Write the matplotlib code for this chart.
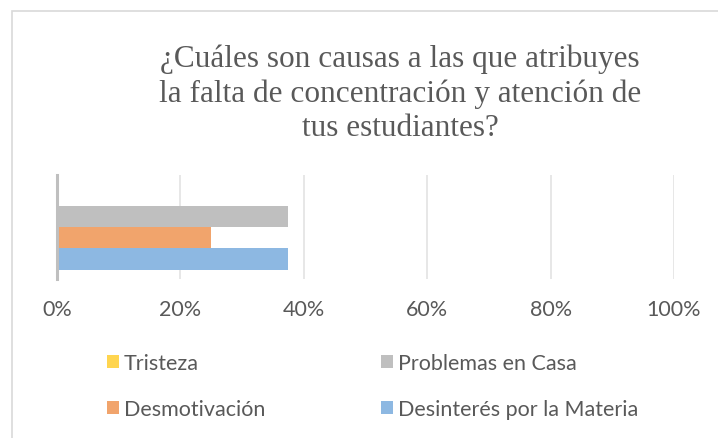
import matplotlib
matplotlib.use("Agg")
import matplotlib.pyplot as plt
from matplotlib.patches import Rectangle, Patch
from matplotlib.ticker import FuncFormatter

title = "¿Cuáles son causas a las que atribuyes\nla falta de concentración y atención de\ntus estudiantes?"
series = ["Desinterés por la Materia", "Desmotivación", "Problemas en Casa", "Tristeza"]
values = [0.375, 0.25, 0.375, 0.0]
colors = ["#8DB8E2", "#F1A46C", "#BFBFBF", "#FFD54F"]
xticks = [0, 0.2, 0.4, 0.6, 0.8, 1.0]

W, H = 718, 439
fig = plt.figure(figsize=(W / 100, H / 100), dpi=100)

# chart border
fig.patches.append(Rectangle((12 / W, -0.1), 1.2, 1 - 12 / H + 0.1, transform=fig.transFigure,
                             fill=False, edgecolor="#D9D9D9", linewidth=1.2))

ax = fig.add_axes([57 / W, 1 - 280 / H, 617 / W, 104 / H])
bar_h = 1.0
for i, (s, v, c) in enumerate(zip(series, values, colors)):
    ax.barh(i, v, height=bar_h, color=c, label=s, zorder=3)

ax.set_xlim(0, 1.0)
ax.set_ylim(-0.92, 3.92)
ax.set_xticks(xticks)
ax.xaxis.set_major_formatter(FuncFormatter(lambda x, p: f"{int(round(x * 100))}%"))
ax.set_yticks([])
ax.grid(axis="x", color="#E3E3E3", linewidth=1.2, zorder=0)
for sp in ["top", "right", "bottom"]:
    ax.spines[sp].set_visible(False)
ax.spines["left"].set_color("#BFBFBF")
ax.spines["left"].set_linewidth(2.2)
ax.spines["left"].set_zorder(4)
ax.tick_params(axis="x", length=0, pad=14.5, labelsize=15.5, labelcolor="#595959")
for lab in ax.get_xticklabels():
    lab.set_fontfamily("Lato")

fig.text(400 / W, 1 - 45 / H, title, ha="center", va="top", fontsize=22.5,
         family="Liberation Serif", color="#595959", linespacing=1.22)

order = [3, 1, 2, 0]
handles = [Patch(facecolor=colors[i], edgecolor="none") for i in order]
labels = [series[i] for i in order]
fig.legend(handles, labels, ncol=2, loc="center left",
           bbox_to_anchor=(88 / W, 1 - 387 / H), frameon=False,
           prop={"family": "Lato", "size": 15.5}, labelcolor="#595959",
           handlelength=0.56, handleheight=0.56, handletextpad=0.2,
           columnspacing=5.4, labelspacing=1.23)

fig.savefig("out.png", dpi=100)
